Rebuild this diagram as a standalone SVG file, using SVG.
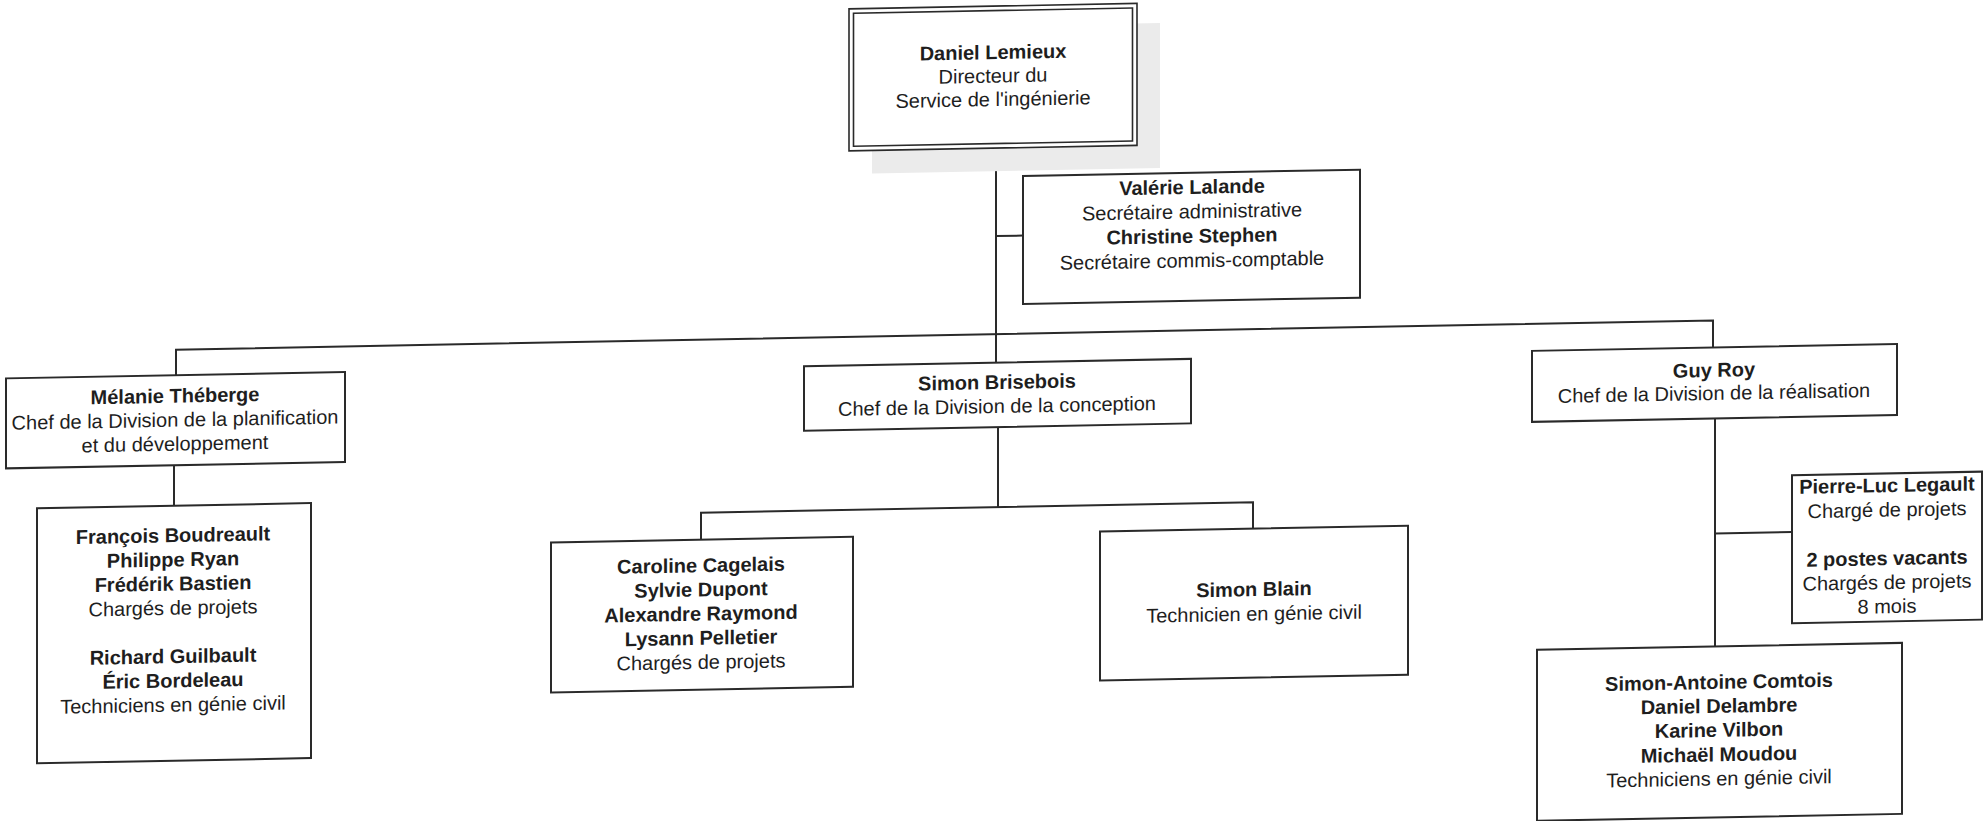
<svg xmlns="http://www.w3.org/2000/svg" width="1983" height="821" viewBox="0 0 1983 821">
<style>
.box{fill:#ffffff;stroke:#2a2a2a;stroke-width:2}
.dbl{fill:#ffffff;stroke:#2a2a2a;stroke-width:1.6}
.ln{fill:none;stroke:#2a2a2a;stroke-width:2}
text{font-family:"Liberation Sans",Arial,sans-serif;font-size:20px;fill:#1e1e1e;text-anchor:middle}
.b{font-weight:bold}
</style>
<rect x="0" y="0" width="1983" height="821" fill="#ffffff"/>
<g transform="matrix(1,-0.019,0,1,0,0)">
<g id="connectors">
<path class="ln" d="M996,167 V381.5"/>
<path class="ln" d="M996,255 H1023"/>
<path class="ln" d="M176,378.5 V353 H1713 V380"/>
<path class="ln" d="M174,468.5 V509"/>
<path class="ln" d="M998,446 V526"/>
<path class="ln" d="M701,553 V526 H1253 V552.5"/>
<path class="ln" d="M1715,451 V679"/>
<path class="ln" d="M1715,566 H1792"/>
</g>
<g id="director">
<rect x="872" y="45" width="288" height="145" fill="#ebebeb"/>
<rect class="dbl" x="849" y="25" width="288" height="142"/>
<rect class="dbl" x="853.5" y="29.5" width="279" height="133"/>
<text x="993" y="78" class="b">Daniel Lemieux</text>
<text x="993" y="101.5">Directeur du</text>
<text x="993" y="125">Service de l'ingénierie</text>
</g>
<g id="secretaires">
<rect class="box" x="1023" y="195.5" width="337" height="128"/>
<text x="1192" y="216.5" class="b">Valérie Lalande</text>
<text x="1192" y="241">Secrétaire administrative</text>
<text x="1192" y="265.5" class="b">Christine Stephen</text>
<text x="1192" y="290">Secrétaire commis-comptable</text>
</g>
<g id="planification">
<rect class="box" x="6" y="378.5" width="339" height="90"/>
<text x="175" y="406" class="b">Mélanie Théberge</text>
<text x="175" y="430">Chef de la Division de la planification</text>
<text x="175" y="454">et du développement</text>
</g>
<g id="planification-equipe">
<rect class="box" x="37" y="509" width="274" height="255"/>
<text x="173" y="545.5" class="b">François Boudreault</text>
<text x="173" y="569.7" class="b">Philippe Ryan</text>
<text x="173" y="593.9" class="b">Frédérik Bastien</text>
<text x="173" y="618.1">Chargés de projets</text>
<text x="173" y="666.5" class="b">Richard Guilbault</text>
<text x="173" y="690.7" class="b">Éric Bordeleau</text>
<text x="173" y="714.9">Techniciens en génie civil</text>
</g>
<g id="conception">
<rect class="box" x="804" y="381.5" width="387" height="64.5"/>
<text x="997" y="408" class="b">Simon Brisebois</text>
<text x="997" y="432">Chef de la Division de la conception</text>
</g>
<g id="conception-charges">
<rect class="box" x="551" y="553" width="302" height="150"/>
<text x="701" y="585.5" class="b">Caroline Cagelais</text>
<text x="701" y="609.7" class="b">Sylvie Dupont</text>
<text x="701" y="633.9" class="b">Alexandre Raymond</text>
<text x="701" y="658.1" class="b">Lysann Pelletier</text>
<text x="701" y="682.3">Chargés de projets</text>
</g>
<g id="conception-technicien">
<rect class="box" x="1100" y="552.5" width="308" height="149"/>
<text x="1254" y="620" class="b">Simon Blain</text>
<text x="1254" y="644.5">Technicien en génie civil</text>
</g>
<g id="realisation">
<rect class="box" x="1532" y="380" width="365" height="71"/>
<text x="1714" y="409.5" class="b">Guy Roy</text>
<text x="1714" y="432.5">Chef de la Division de la réalisation</text>
</g>
<g id="realisation-charges">
<rect class="box" x="1792" y="509.3" width="190" height="148"/>
<text x="1887" y="528" class="b">Pierre-Luc Legault</text>
<text x="1887" y="552.5">Chargé de projets</text>
<text x="1887" y="601" class="b">2 postes vacants</text>
<text x="1887" y="625">Chargés de projets</text>
<text x="1887" y="649">8 mois</text>
</g>
<g id="realisation-techniciens">
<rect class="box" x="1537" y="679" width="365" height="171"/>
<text x="1719" y="721.5" class="b">Simon-Antoine Comtois</text>
<text x="1719" y="745.5" class="b">Daniel Delambre</text>
<text x="1719" y="769.5" class="b">Karine Vilbon</text>
<text x="1719" y="794" class="b">Michaël Moudou</text>
<text x="1719" y="818">Techniciens en génie civil</text>
</g>
</g>
</svg>
